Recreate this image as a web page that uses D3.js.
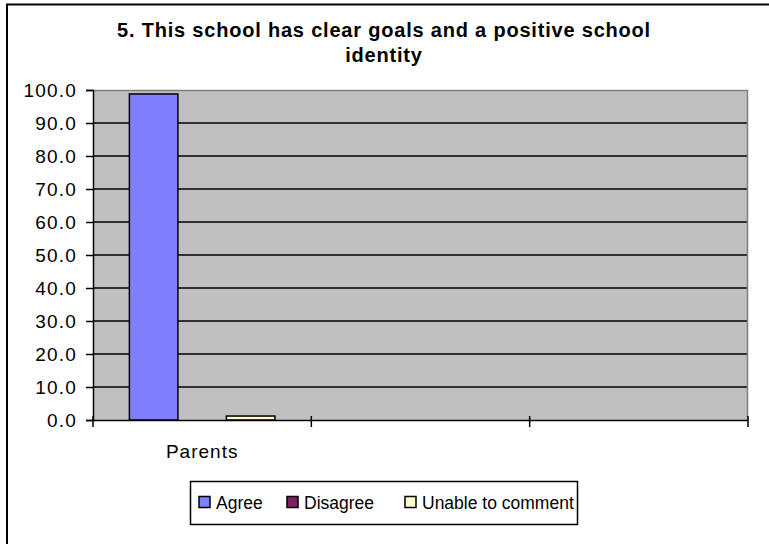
<!DOCTYPE html>
<html>
<head>
<meta charset="utf-8">
<script src="https://cdn.jsdelivr.net/npm/d3@7"></script>
<style>
  body { margin: 0; background: #fff; }
  svg text { font-family: "Liberation Sans", Arial, sans-serif; fill: #000; }
</style>
</head>
<body>
<div class="chart"></div>
<script>
// chart values
let categories = ["c1", "c2", "c3"];
let categoryLabels = ["Parents", "", ""];
let seriesNames = ["Agree", "Disagree", "Unable to comment"];
let agree = [98.8, null, null];
let disagree = [0.0, null, null];
let unable = [1.2, null, null];
let yTicks = [0, 10, 20, 30, 40, 50, 60, 70, 80, 90, 100];
let titleLines = ["5. This school has clear goals and a positive school", "identity"];

let colors = ["#8080ff", "#802060", "#ffffcc"];

let svgWidth = 769;
let svgHeight = 544;

let margin = { top: 90, right: 21, bottom: 124, left: 93 };
let width = svgWidth - margin.left - margin.right;
let height = svgHeight - margin.top - margin.bottom;

let svg = d3.select(".chart")
  .append("svg")
  .attr("width", svgWidth)
  .attr("height", svgHeight);

// outer chart border (only top and left are inside the window)
svg.append("rect")
  .attr("x", 7)
  .attr("y", 4.5)
  .attr("width", 900)
  .attr("height", 700)
  .attr("fill", "none")
  .attr("stroke", "#000")
  .attr("stroke-width", 2);

// title
svg.append("g").selectAll("text")
  .data(titleLines)
  .enter()
  .append("text")
  .attr("x", 384)
  .attr("y", (d, i) => 37 + i * 25)
  .attr("text-anchor", "middle")
  .attr("font-size", "20px")
  .attr("letter-spacing", "0.8px")
  .attr("font-weight", "bold")
  .text(d => d);

let chartGroup = svg.append("g")
  .attr("transform", `translate(${margin.left}, ${margin.top})`);

let x0 = d3.scaleBand()
  .domain(categories)
  .range([0, width])
  .paddingInner(0)
  .paddingOuter(0);

let bw = x0.bandwidth();
let x1 = d3.scaleBand()
  .domain(seriesNames)
  .range([bw * 0.75 / 4.5, bw - bw * 0.75 / 4.5])
  .padding(0);

let y = d3.scaleLinear()
  .domain([0, 100])
  .range([height, 0]);

// plot background
chartGroup.append("rect")
  .attr("width", width)
  .attr("height", height)
  .attr("fill", "#c0c0c0");

// gridlines
chartGroup.append("g")
  .selectAll("line")
  .data(yTicks.filter(t => t > 0 && t < 100))
  .enter()
  .append("line")
  .attr("x1", 0)
  .attr("x2", width)
  .attr("y1", d => y(d))
  .attr("y2", d => y(d))
  .attr("stroke", "#000")
  .attr("stroke-width", 1.5);

// plot border (top / right)
chartGroup.append("path")
  .attr("d", `M0,0.5H${width - 0.5}V${height}`)
  .attr("fill", "none")
  .attr("stroke", "#808080")
  .attr("stroke-width", 1.5);

// bars
let seriesData = [agree, disagree, unable];
categories.forEach(function(cat, ci) {
  seriesNames.forEach(function(name, si) {
    let v = seriesData[si][ci];
    if (v === null || v <= 0) return;
    chartGroup.append("rect")
      .attr("x", x0(cat) + x1(name))
      .attr("y", y(v))
      .attr("width", x1.bandwidth())
      .attr("height", y(0) - y(v))
      .attr("fill", colors[si])
      .attr("stroke", "#000")
      .attr("stroke-width", 1.5);
  });
});

// y axis
let leftAxis = d3.axisLeft(y)
  .tickValues(yTicks)
  .tickFormat(d3.format(".1f"))
  .tickSize(7)
  .tickPadding(9);

let yAxis = chartGroup.append("g").call(leftAxis);
yAxis.select(".domain").attr("stroke", "#000").attr("stroke-width", 1.5);
yAxis.selectAll(".tick line").attr("stroke", "#000").attr("stroke-width", 1.5);
yAxis.selectAll(".tick text")
  .attr("font-size", "19px")
  .attr("letter-spacing", "1.2px")
  .attr("font-family", "Liberation Sans, Arial, sans-serif")
  .attr("fill", "#000");

// x axis
let bottomAxis = d3.axisBottom(x0).tickSize(0).tickFormat((d, i) => categoryLabels[i]);
let xAxis = chartGroup.append("g")
  .attr("transform", `translate(0, ${height})`)
  .call(bottomAxis);
xAxis.select(".domain").attr("stroke", "#000").attr("stroke-width", 1.5);
xAxis.selectAll(".tick text")
  .attr("y", 38)
  .attr("dy", 0)
  .attr("font-size", "19px")
  .attr("letter-spacing", "1px")
  .attr("font-family", "Liberation Sans, Arial, sans-serif")
  .attr("fill", "#000");

// category boundary ticks
let boundaries = categories.map(c => x0(c)).concat([width]);
xAxis.append("g")
  .selectAll("line")
  .data(boundaries)
  .enter()
  .append("line")
  .attr("x1", d => d)
  .attr("x2", d => d)
  .attr("y1", -4)
  .attr("y2", 7)
  .attr("stroke", "#000")
  .attr("stroke-width", 1.5);

// legend
let legend = svg.append("g")
  .attr("transform", "translate(190, 481)");

legend.append("rect")
  .attr("x", 0.5)
  .attr("y", 0.5)
  .attr("width", 387)
  .attr("height", 43)
  .attr("fill", "#fff")
  .attr("stroke", "#000")
  .attr("stroke-width", 1.5);

let legendX = [9, 97, 215];
let legendItems = legend.selectAll(".item")
  .data(seriesNames)
  .enter()
  .append("g")
  .classed("item", true)
  .attr("transform", (d, i) => `translate(${legendX[i]}, 0)`);

legendItems.append("rect")
  .attr("x", 0)
  .attr("y", 15.5)
  .attr("width", 11)
  .attr("height", 11)
  .attr("fill", (d, i) => colors[i])
  .attr("stroke", "#000")
  .attr("stroke-width", 1.5);

legendItems.append("text")
  .attr("x", 17)
  .attr("y", 28)
  .attr("font-size", "17.5px")
  .text(d => d);
</script>
</body>
</html>
